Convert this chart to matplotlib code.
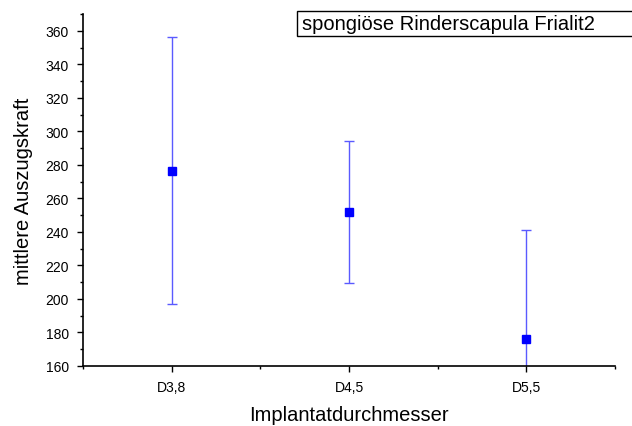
import matplotlib.pyplot as plt
from matplotlib.patches import Rectangle

# Data
categories = ['D3,8', 'D4,5', 'D5,5']
means = [276.5, 251.8, 176.2]
errors = [79.5, 42.5, 65.2]

plt.rcParams['font.family'] = ['Liberation Sans', 'DejaVu Sans']

fig = plt.figure(figsize=(6.32, 4.27), dpi=100)
ax = fig.add_axes([83 / 632, 1 - 367 / 427, (615 - 83) / 632, (367 - 15) / 427])

x = list(range(1, len(categories) + 1))
ax.errorbar(x, means, yerr=errors, fmt='none', ecolor='#5a5aff', elinewidth=1.0,
            capsize=3.5, capthick=1.0, zorder=2, clip_on=True)
ax.plot(x, means, 's', color='#0000ff', markersize=6, zorder=3)

ax.set_xlim(0.5, 3.5)
ax.set_ylim(160, 370)

# categories on major ticks, short ticks in between
ax.set_xticks(x)
ax.set_xticklabels(categories)
ax.set_xticks([0.5, 1.5, 2.5, 3.5], minor=True)
ax.tick_params(axis='x', which='major', length=4, width=1, pad=6, labelsize=10)
ax.tick_params(axis='x', which='minor', length=2.5, width=1)

ax.set_yticks(range(160, 361, 20))
ax.set_yticks(range(170, 371, 20), minor=True)
ax.tick_params(axis='y', which='major', length=4, width=1, pad=6, labelsize=10)
ax.tick_params(axis='y', which='minor', length=2.5, width=1)

for side in ['top', 'right']:
    ax.spines[side].set_visible(False)
for side in ['left', 'bottom']:
    ax.spines[side].set_linewidth(1.2)

ax.set_xlabel('Implantatdurchmesser', fontsize=14.5, labelpad=8)
ax.set_ylabel('mittlere Auszugskraft', fontsize=14.5, labelpad=9)

# title box running off the right edge
fig.patches.append(Rectangle((297 / 632, 1 - 37 / 427), 0.6, 25 / 427, transform=fig.transFigure,
                             facecolor='white', edgecolor='black', linewidth=1, zorder=5))
fig.text(302 / 632, 1 - 24 / 427, 'spongiöse Rinderscapula Frialit2', fontsize=14.5,
         va='center', ha='left', zorder=6)

plt.savefig('out.png', dpi=100)
